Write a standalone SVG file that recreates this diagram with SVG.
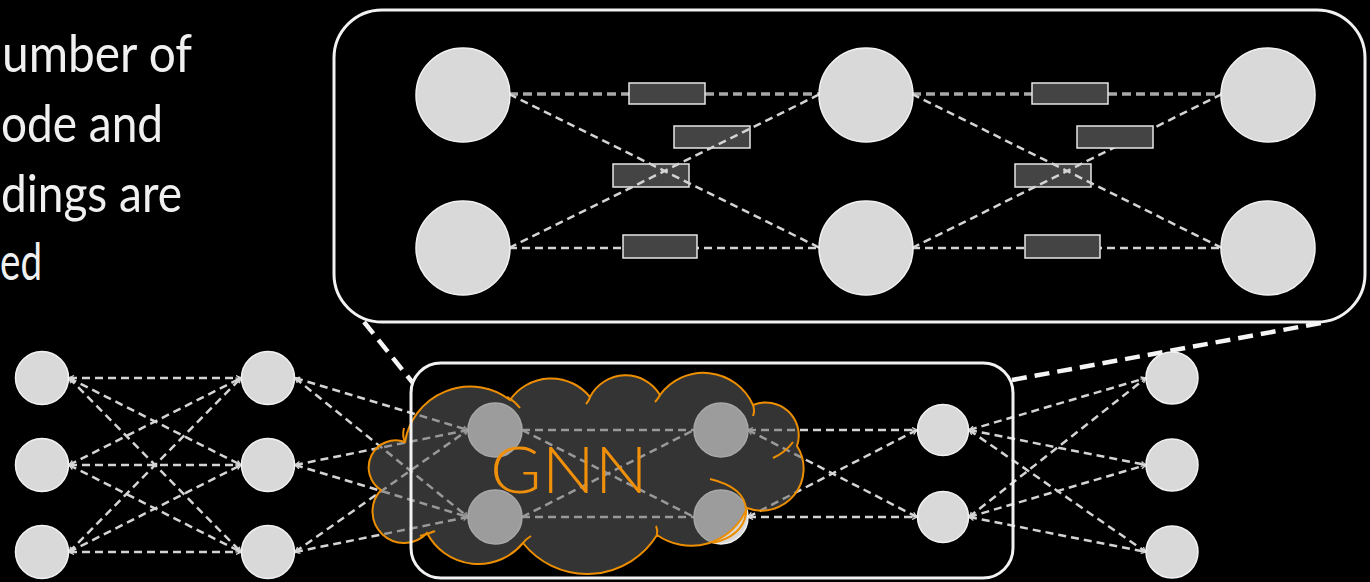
<svg xmlns="http://www.w3.org/2000/svg" width="1370" height="582" viewBox="0 0 1370 582">
<defs>
<marker id="ah" viewBox="0 0 6 6" markerWidth="6" markerHeight="6" refX="5.5" refY="3" orient="auto-start-reverse" markerUnits="userSpaceOnUse">
<path d="M0.5,0.5 L5.5,3 L0.5,5.5" fill="none" stroke="#d6d6d6" stroke-width="1.3"/>
</marker>
<style>
.bg{fill:#000}
.node{fill:#d9d9d9;stroke:#f2f2f2;stroke-width:1.5}
.frame{fill:none;stroke:#f2f2f2;stroke-width:3}
.dl{fill:none;stroke:#d4d4d4;stroke-width:2.5;stroke-dasharray:8 5}
.dh{fill:none;stroke:#a8a8a8;stroke-width:3.5;stroke-dasharray:9 5}
.dm{marker-start:url(#ah);marker-end:url(#ah)}
.thick{fill:none;stroke:#f5f5f5;stroke-width:4.5;stroke-dasharray:15 8}
.edge{fill:#444;stroke:#e6e6e6;stroke-width:1.5}
.txt{font-family:"Lato","Open Sans",sans-serif;font-size:52px;fill:#f0f0f0}
.gnn{font-family:"Lato","Open Sans",sans-serif;font-weight:300;font-size:66px;fill:#f0900a}
.cloud{fill:#646464;fill-opacity:0.52;stroke:#ec8e00;stroke-width:2}
.hook{fill:none;stroke:#ec8e00;stroke-width:2}
</style>
</defs>
<rect class="bg" x="0" y="0" width="1370" height="582"/>

<g id="caption">
<text class="txt" x="2" y="72" textLength="190" lengthAdjust="spacingAndGlyphs">umber of</text>
<text class="txt" x="1" y="142" textLength="162" lengthAdjust="spacingAndGlyphs">ode and</text>
<text class="txt" x="1" y="212" textLength="181" lengthAdjust="spacingAndGlyphs">dings are</text>
<text class="txt" x="0" y="280" textLength="42" lengthAdjust="spacingAndGlyphs">ed</text>
</g>

<g id="zoom-frame">
<rect class="frame" x="334" y="10" width="1031" height="312" rx="48" ry="48"/>
</g>

<g id="connectors">
<line class="dh" x1="509" y1="94" x2="820" y2="94"/>
<line class="dl" x1="509" y1="248" x2="820" y2="248"/>
<line class="dh" x1="912" y1="94" x2="1222" y2="94"/>
<line class="dl" x1="912" y1="248" x2="1222" y2="248"/>
</g>

<g id="edge-boxes-1">
<rect class="edge" x="629" y="83" width="76" height="21"/>
<rect class="edge" x="674" y="126" width="76" height="22"/>
<rect class="edge" x="613" y="164" width="76" height="23"/>
<rect class="edge" x="623" y="235" width="74" height="23"/>
<rect class="edge" x="1032" y="83" width="76" height="21"/>
<rect class="edge" x="1015" y="164" width="76" height="23"/>
<rect class="edge" x="1025" y="235" width="75" height="23"/>
</g>

<g id="connectors-diag">
<line class="dl" x1="509" y1="94" x2="820" y2="248"/>
<line class="dl" x1="509" y1="248" x2="820" y2="94"/>
<line class="dl" x1="912" y1="94" x2="1222" y2="248"/>
<line class="dl" x1="912" y1="248" x2="1222" y2="94"/>
</g>

<g id="edge-boxes-2">
<rect class="edge" x="1077" y="126" width="76" height="22"/>
</g>

<g id="zoom-nodes">
<circle id="z1" class="node" cx="463" cy="95" r="47"/>
<circle id="z2" class="node" cx="463" cy="248" r="47"/>
<circle id="z3" class="node" cx="866" cy="95" r="47"/>
<circle id="z4" class="node" cx="866" cy="248" r="47"/>
<circle id="z5" class="node" cx="1268" cy="95" r="47"/>
<circle id="z6" class="node" cx="1268" cy="248" r="47"/>
</g>

<g id="zoom-links">
<line class="thick" x1="364" y1="322" x2="413" y2="383"/>
<line class="thick" x1="1012" y1="380" x2="1326" y2="322"/>
</g>

<g id="network-connectors">
<line class="dl dm" x1="69" y1="378" x2="241" y2="378"/>
<line class="dl dm" x1="69" y1="378" x2="241" y2="465"/>
<line class="dl dm" x1="69" y1="378" x2="241" y2="552"/>
<line class="dl dm" x1="69" y1="465" x2="241" y2="378"/>
<line class="dl dm" x1="69" y1="465" x2="241" y2="465"/>
<line class="dl dm" x1="69" y1="465" x2="241" y2="552"/>
<line class="dl dm" x1="69" y1="552" x2="241" y2="378"/>
<line class="dl dm" x1="69" y1="552" x2="241" y2="465"/>
<line class="dl dm" x1="69" y1="552" x2="241" y2="552"/>
<line class="dl dm" x1="295" y1="378" x2="468" y2="430"/>
<line class="dl dm" x1="295" y1="378" x2="468" y2="517"/>
<line class="dl dm" x1="295" y1="465" x2="468" y2="430"/>
<line class="dl dm" x1="295" y1="465" x2="468" y2="517"/>
<line class="dl dm" x1="295" y1="552" x2="468" y2="430"/>
<line class="dl dm" x1="295" y1="552" x2="468" y2="517"/>
<line class="dl" x1="522" y1="430" x2="694" y2="430"/>
<line class="dl" x1="522" y1="430" x2="694" y2="517"/>
<line class="dl" x1="522" y1="517" x2="694" y2="430"/>
<line class="dl" x1="522" y1="517" x2="694" y2="517"/>
<line class="dl dm" x1="748" y1="430" x2="917" y2="430"/>
<line class="dl dm" x1="748" y1="430" x2="917" y2="517"/>
<line class="dl dm" x1="748" y1="517" x2="917" y2="430"/>
<line class="dl dm" x1="748" y1="517" x2="917" y2="517"/>
<line class="dl dm" x1="969" y1="430" x2="1146" y2="378"/>
<line class="dl dm" x1="969" y1="430" x2="1146" y2="465"/>
<line class="dl dm" x1="969" y1="430" x2="1146" y2="552"/>
<line class="dl dm" x1="969" y1="517" x2="1146" y2="378"/>
<line class="dl dm" x1="969" y1="517" x2="1146" y2="465"/>
<line class="dl dm" x1="969" y1="517" x2="1146" y2="552"/>
</g>

<g id="input-nodes">
<circle id="a1" class="node" cx="42" cy="378" r="26.5"/>
<circle id="a2" class="node" cx="42" cy="465" r="26.5"/>
<circle id="a3" class="node" cx="42" cy="552" r="26.5"/>
</g>
<g id="hidden-nodes">
<circle id="b1" class="node" cx="268" cy="378" r="26.5"/>
<circle id="b2" class="node" cx="268" cy="465" r="26.5"/>
<circle id="b3" class="node" cx="268" cy="552" r="26.5"/>
</g>
<g id="gnn-nodes">
<circle id="g1" class="node" cx="495" cy="430" r="27"/>
<circle id="g2" class="node" cx="495" cy="517" r="27"/>
<circle id="g3" class="node" cx="721" cy="430" r="27"/>
<circle id="g4" class="node" cx="721" cy="517" r="27"/>
</g>

<g id="gnn-cloud">
<path class="cloud" d="M381,490 A27,27 0 0 1 405,442 A66,66 0 0 1 510,400 A50,50 0 0 1 590,397 A40,40 0 0 1 660,395 A54,54 0 0 1 753,405 A33,33 0 0 1 797,446 A42,42 0 0 1 747,508 A60,60 0 0 1 657,535 A82,82 0 0 1 523,543 A58,58 0 0 1 427,533 A31,31 0 0 1 381,490 Z"/>
<path class="hook" d="M507,397 Q515,401 520,408"/>
<path class="hook" d="M590,397 Q589,401 586,404"/>
<path class="hook" d="M660,395 Q658,399 655,402"/>
<path class="hook" d="M753,405 Q755,411 753,416"/>
<path class="hook" d="M773,458 Q786,452 793,442"/>
<path class="hook" d="M710,479 Q748,488 746,514 Q742,536 713,543"/>
<path class="hook" d="M657,535 Q658,530 656,526"/>
<path class="hook" d="M523,543 Q526,539 531,536"/>
<path class="hook" d="M420,536 Q428,534 435,531"/>
<path class="hook" d="M405,442 Q402,436 404,428"/>
<text class="gnn" x="490" y="493" textLength="158" lengthAdjust="spacingAndGlyphs">GNN</text>
</g>

<g id="gnn-frame">
<rect class="frame" x="411" y="363" width="602" height="215" rx="30" ry="30"/>
</g>

<g id="box-nodes">
<circle id="c1" class="node" cx="943" cy="430" r="25.5"/>
<circle id="c2" class="node" cx="943" cy="517" r="25.5"/>
</g>
<g id="output-nodes">
<circle id="d1" class="node" cx="1172" cy="378" r="26"/>
<circle id="d2" class="node" cx="1172" cy="465" r="26"/>
<circle id="d3" class="node" cx="1172" cy="552" r="26"/>
</g>
</svg>
